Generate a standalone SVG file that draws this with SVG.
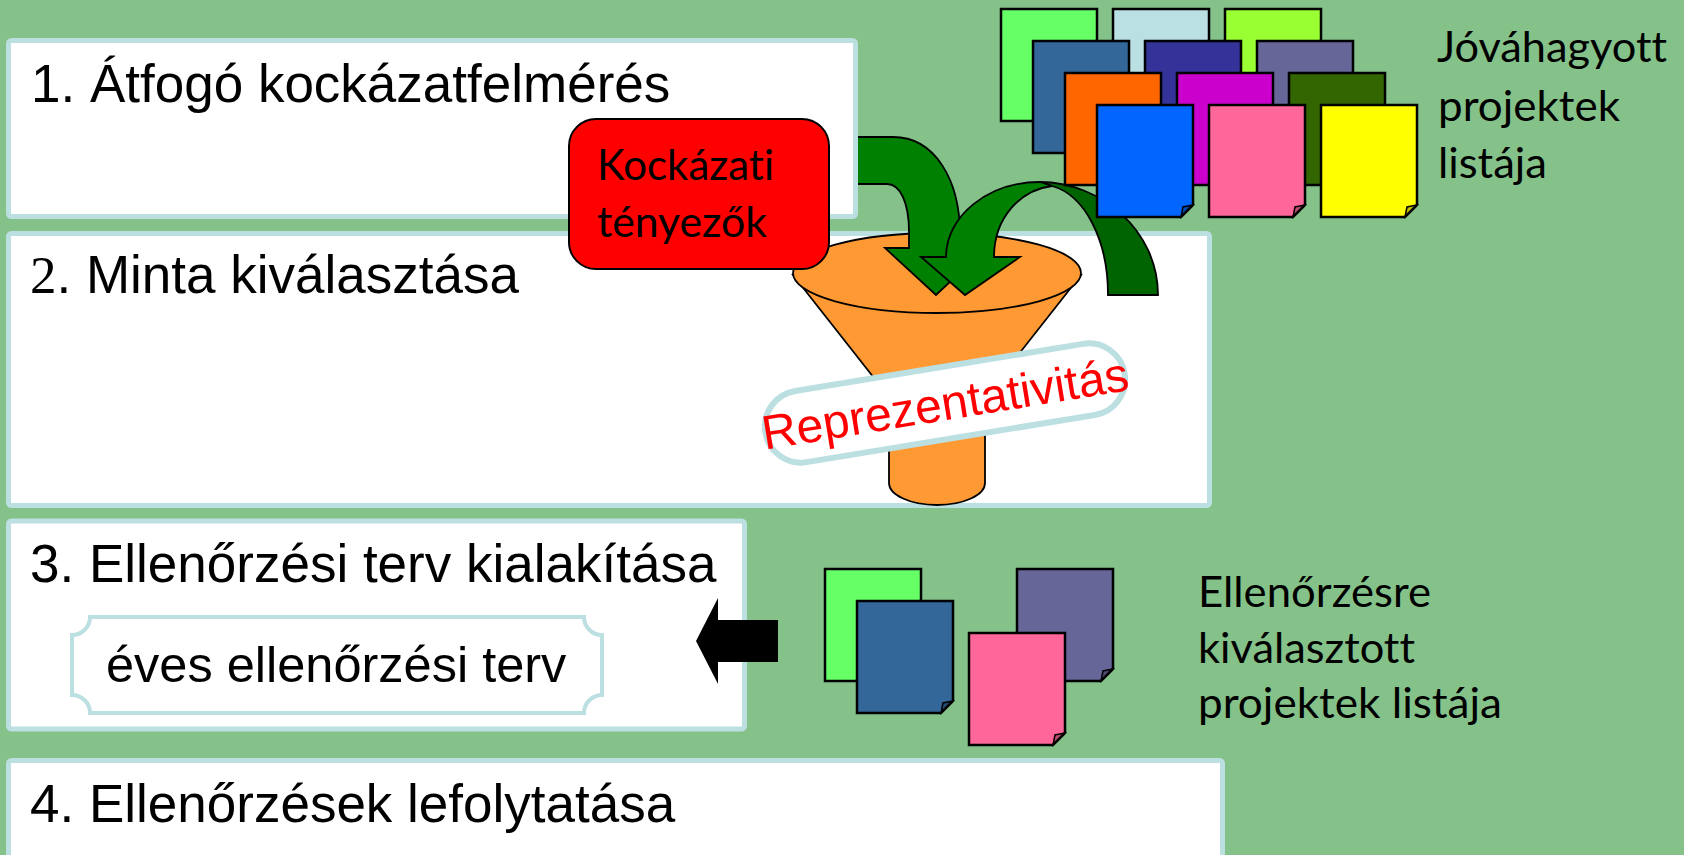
<svg xmlns="http://www.w3.org/2000/svg" xmlns:xlink="http://www.w3.org/1999/xlink" width="1684" height="855" viewBox="0 0 1684 855">
<style>
.box{fill:#fff;stroke:#BCDFE2;stroke-width:5}
.a{font-family:"Liberation Sans",Arial,sans-serif;fill:#000}
.s{font-family:"Liberation Serif","Times New Roman",serif;fill:#000}
.c{font-family:Lato,"Liberation Sans",sans-serif;fill:#000;font-size:42px;font-variant-ligatures:none;font-feature-settings:"liga" 0,"dlig" 0}
.doc{stroke:#000;stroke-width:2.5;stroke-linejoin:miter}
.fold{fill:#000;fill-opacity:.25;stroke:#000;stroke-width:1.5}
.ol{stroke:#000;stroke-width:1.8;stroke-linejoin:miter}
</style>
<defs>
<path id="doc" d="M0 0H96V100L84 112H0Z"/>
<path id="fold" d="M96 100L84 112L86 102Z"/>
</defs>
<rect width="1684" height="855" fill="#84C28A"/>

<g id="box2"><rect class="box" x="8.5" y="233.5" width="1201" height="272" rx="3"/>
<text x="30" y="293" font-size="53"><tspan class="s">2</tspan><tspan class="a">. Minta kiválasztása</tspan></text></g>
<g id="box3"><rect class="box" x="8.5" y="521" width="736" height="208" rx="3"/>
<text class="a" x="30" y="582" font-size="53">3. Ellenőrzési terv kialakítása</text></g>
<g id="plaque"><path d="M90 617H584A18 18 0 0 0 602 635V695A18 18 0 0 0 584 713H90A18 18 0 0 0 72 695V635A18 18 0 0 0 90 617Z" fill="#fff" stroke="#BCDFE2" stroke-width="4"/>
<text class="a" x="106" y="682" font-size="50.5">éves ellenőrzési terv</text></g>
<g id="box4"><rect class="box" x="8.5" y="760.5" width="1214" height="130" rx="3"/>
<text class="a" x="30" y="822" font-size="53">4. Ellenőrzések lefolytatása</text></g>

<g id="funnel">
<path class="ol" d="M793 275L889 397V483A48 22 0 0 0 985 483V397L1081 275Z" fill="#FF9933"/>
<ellipse class="ol" cx="937" cy="273" rx="144" ry="40" fill="#FF9933"/>
</g>

<g id="connectors">
<path class="ol" d="M845 137H893C935 137 960 180 960 235V248H986L936 295L885 248H909V232C909 202 900 184 887 184H845Z" fill="#008000"/>
<path class="ol" d="M1040 182C1100 182 1158 230 1158 295H1108C1108 240 1085 195 1052 186Z" fill="#006400"/>
<path class="ol" d="M946 257C946 216 988 182 1040 182L1052 186C1020 190 994 218 994 257H1020L965 295L921 257Z" fill="#008000"/>
<path d="M696 641L718 598V620H778V662H718V684Z" fill="#000"/>
</g>

<g id="box1"><rect class="box" x="8.5" y="40.5" width="847" height="176" rx="3"/>
<text class="a" x="31" y="102" font-size="53">1. Átfogó kockázatfelmérés</text></g>

<g id="kockazati"><rect x="569" y="119" width="260" height="150" rx="27" fill="#FF0000" stroke="#000" stroke-width="2"/>
<text class="c" x="597" y="180" textLength="177" lengthAdjust="spacingAndGlyphs">Kockázati</text>
<text class="c" x="597" y="237" textLength="170" lengthAdjust="spacingAndGlyphs">tényezők</text></g>

<g id="repr" transform="rotate(-9.3 945 403)">
<rect x="763" y="367" width="364" height="72" rx="36" fill="#fff" stroke="#BCDFE2" stroke-width="6"/>
<text class="a" x="945" y="420" font-size="48" text-anchor="middle" style="fill:#FF0000">Reprezentativitás</text>
</g>

<g id="docs-top">
<g class="doc" transform="translate(1001 9)" fill="#66FF66"><use xlink:href="#doc"/><use xlink:href="#fold" class="fold"/></g>
<g class="doc" transform="translate(1113 9)" fill="#BBE0E3"><use xlink:href="#doc"/><use xlink:href="#fold" class="fold"/></g>
<g class="doc" transform="translate(1225 9)" fill="#99FF33"><use xlink:href="#doc"/><use xlink:href="#fold" class="fold"/></g>
<g class="doc" transform="translate(1033 41)" fill="#336699"><use xlink:href="#doc"/><use xlink:href="#fold" class="fold"/></g>
<g class="doc" transform="translate(1145 41)" fill="#333399"><use xlink:href="#doc"/><use xlink:href="#fold" class="fold"/></g>
<g class="doc" transform="translate(1257 41)" fill="#666699"><use xlink:href="#doc"/><use xlink:href="#fold" class="fold"/></g>
<g class="doc" transform="translate(1065 73)" fill="#FF6600"><use xlink:href="#doc"/><use xlink:href="#fold" class="fold"/></g>
<g class="doc" transform="translate(1177 73)" fill="#CC00CC"><use xlink:href="#doc"/><use xlink:href="#fold" class="fold"/></g>
<g class="doc" transform="translate(1289 73)" fill="#336600"><use xlink:href="#doc"/><use xlink:href="#fold" class="fold"/></g>
<g class="doc" transform="translate(1097 105)" fill="#0066FF"><use xlink:href="#doc"/><use xlink:href="#fold" class="fold"/></g>
<g class="doc" transform="translate(1209 105)" fill="#FF6699"><use xlink:href="#doc"/><use xlink:href="#fold" class="fold"/></g>
<g class="doc" transform="translate(1321 105)" fill="#FFFF00"><use xlink:href="#doc"/><use xlink:href="#fold" class="fold"/></g>
</g>
<g id="label-top">
<text class="c" x="1437" y="62" textLength="230" lengthAdjust="spacingAndGlyphs">Jóváhagyott</text>
<text class="c" x="1438" y="121" textLength="182" lengthAdjust="spacingAndGlyphs">projektek</text>
<text class="c" x="1438" y="178" textLength="109" lengthAdjust="spacingAndGlyphs">listája</text>
</g>

<g id="docs-bottom">
<g class="doc" transform="translate(825 569)" fill="#66FF66"><use xlink:href="#doc"/><use xlink:href="#fold" class="fold"/></g>
<g class="doc" transform="translate(857 601)" fill="#336699"><use xlink:href="#doc"/><use xlink:href="#fold" class="fold"/></g>
<g class="doc" transform="translate(1017 569)" fill="#666699"><use xlink:href="#doc"/><use xlink:href="#fold" class="fold"/></g>
<g class="doc" transform="translate(969 633)" fill="#FF6699"><use xlink:href="#doc"/><use xlink:href="#fold" class="fold"/></g>
</g>
<g id="label-bottom">
<text class="c" x="1198" y="607" textLength="233" lengthAdjust="spacingAndGlyphs">Ellenőrzésre</text>
<text class="c" x="1198" y="663" textLength="217" lengthAdjust="spacingAndGlyphs">kiválasztott</text>
<text class="c" x="1198" y="718" textLength="304" lengthAdjust="spacingAndGlyphs">projektek listája</text>
</g>
</svg>
